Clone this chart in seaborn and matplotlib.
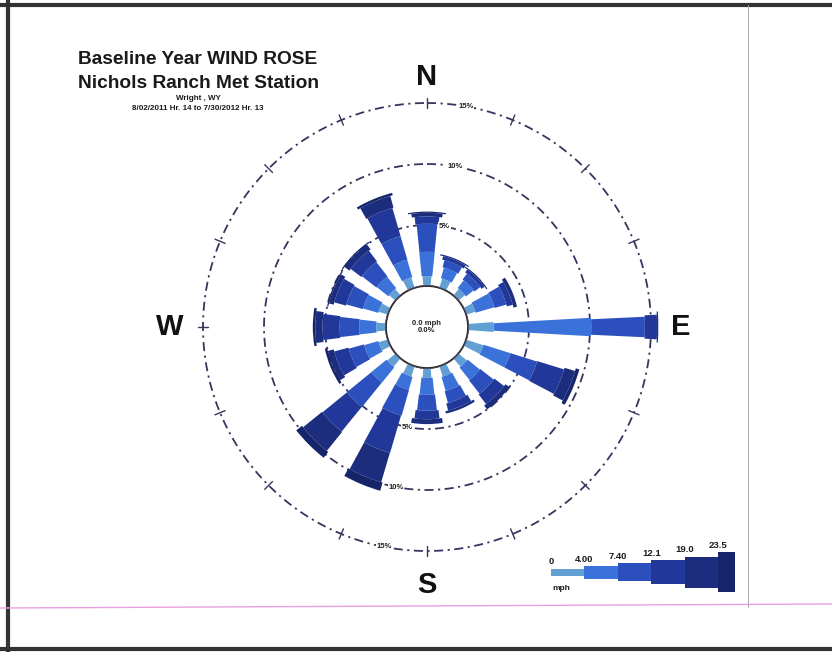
import numpy as np
import matplotlib
matplotlib.use('Agg')
import matplotlib.pyplot as plt
import seaborn as sns
from matplotlib.lines import Line2D

# 风向 (16 directions, clockwise from N)
directions = ['N', 'NNE', 'NE', 'ENE', 'E', 'ESE', 'SE', 'SSE',
              'S', 'SSW', 'SW', 'WSW', 'W', 'WNW', 'NW', 'NNW']

# frequency (%) per wind speed class
spd_0_4 = [0.8, 0.8, 0.7, 0.8, 2.1, 1.5, 0.9, 0.9, 0.8, 0.9, 0.9, 0.8, 0.8, 0.8, 0.7, 0.9]
spd_4_7 = [2.0, 0.9, 0.8, 1.6, 8.0, 2.3, 1.3, 1.2, 1.4, 1.1, 1.6, 1.2, 1.4, 1.3, 1.2, 1.5]
spd_7_12 = [2.3, 0.6, 0.6, 1.0, 4.4, 2.3, 1.4, 1.0, 1.3, 2.2, 2.6, 1.3, 1.6, 1.4, 1.5, 2.0]
spd_12_19 = [0.6, 0.3, 0.3, 0.5, 1.0, 2.3, 1.0, 0.6, 0.7, 3.2, 2.6, 1.2, 1.4, 1.0, 1.1, 2.4]
spd_19_23 = [0.3, 0.1, 0.1, 0.3, 0.1, 0.9, 0.4, 0.2, 0.4, 2.5, 2.0, 0.5, 0.6, 0.4, 0.5, 1.0]
spd_23_up = [0.1, 0.0, 0.0, 0.0, 0.0, 0.3, 0.0, 0.0, 0.0, 0.7, 0.6, 0.2, 0.2, 0.1, 0.1, 0.2]

speed_labels = ['0', '4.00', '7.40', '12.1', '19.0', '23.5']
ring_levels = [5, 10, 15]
ring_labels = ['5%', '10%', '15%']
calm_text = '0.0 mph\n0.0%'

classes = [spd_0_4, spd_4_7, spd_7_12, spd_12_19, spd_19_23, spd_23_up]
colors = sns.color_palette(['#629fd2', '#3a72da', '#2b50bd', '#21389a', '#1b2d7c', '#16246a'])
bar_px = [8, 13, 18, 24, 31, 38]   # bar width in pixels for each speed class

sns.set_theme(style='white')
plt.rcParams['font.family'] = ['Liberation Sans', 'DejaVu Sans']

fig = plt.figure(figsize=(8.32, 6.52), dpi=100)
fig.patch.set_facecolor('white')

# polar axes centred at (427, 327) px
px_per_pct = 12.2
calm_r = 41 / px_per_pct
rmax = 16
R_px = px_per_pct * (rmax + calm_r)
W, H = 832, 652
cx, cy = 427, 327
ax = fig.add_axes([(cx - R_px) / W, 1 - (cy + R_px) / H, 2 * R_px / W, 2 * R_px / H],
                  projection='polar')
ax.set_theta_zero_location('N')
ax.set_theta_direction(-1)
ax.set_ylim(0, rmax)
ax.set_rorigin(-calm_r)
ax.grid(False)
ax.set_xticks([])
ax.set_yticks([])
ax.spines['polar'].set_visible(False)
ax.patch.set_alpha(0)

theta = np.deg2rad(np.arange(len(directions)) * 360 / len(directions))

# stacked bars
bottom = np.zeros(len(directions))
for vals, col, wpx in zip(classes, colors, bar_px):
    vals = np.array(vals)
    mid = bottom + vals / 2 + calm_r
    widths = (wpx / px_per_pct) / mid
    mask = vals > 0
    ax.bar(theta[mask], vals[mask], width=widths[mask], bottom=bottom[mask],
           color=col, edgecolor='none', zorder=3)
    bottom = bottom + vals

# rings
full = np.linspace(0, 2 * np.pi, 400)
ring_col = '#35355f'
for lv in ring_levels:
    ax.plot(full, np.full_like(full, lv), color=ring_col, lw=1.3,
            linestyle=(0, (5, 2.5, 1.2, 2.5)), zorder=2)
ax.plot(full, np.zeros_like(full), color='#4a3d4a', lw=1.3, zorder=4)

# ticks on outer ring
for t in theta:
    ax.plot([t, t], [ring_levels[-1] - 0.45, ring_levels[-1] + 0.45], color=ring_col, lw=1.0)

# ring labels
for lv, lab in zip(ring_levels, ring_labels):
    for ang in (10, 191):
        ax.text(np.deg2rad(ang), lv, lab, fontsize=5.5, fontweight='bold',
                ha='center', va='center', color='#222222', zorder=5,
                bbox=dict(facecolor='white', edgecolor='none', pad=0.5))

ax.text(0, -calm_r, calm_text, fontsize=5.5, fontweight='bold', ha='center',
        va='center', linespacing=1.0, color='#222222')

# compass letters
for ang, lab, rr in zip([0, 90, 180, 270], ['N', 'E', 'S', 'W'], [17.1, 17.4, 17.8, 17.7]):
    ax.text(np.deg2rad(ang), rr, lab, fontsize=21, fontweight='bold',
            ha='center', va='center', color='#111111', clip_on=False)

# title block
fig.text(198 / W, 1 - 60 / H, 'Baseline Year WIND ROSE', fontsize=13.8, fontweight='bold',
         ha='center', va='center', color='#1a1a1a')
fig.text(198 / W, 1 - 84 / H, 'Nichols Ranch Met Station', fontsize=13.8, fontweight='bold',
         ha='center', va='center', color='#1a1a1a')
fig.text(198 / W, 1 - 99 / H, 'Wright , WY', fontsize=5.8, fontweight='bold',
         ha='center', va='center', color='#1a1a1a')
fig.text(198 / W, 1 - 109 / H, '8/02/2011 Hr. 14 to 7/30/2012 Hr. 13', fontsize=5.8,
         fontweight='bold', ha='center', va='center', color='#1a1a1a')

# speed legend
lax = fig.add_axes([551 / W, 1 - 595 / H, 184 / W, 46 / H])
seg_w = [1, 1, 1, 1, 1, 0.5]
seg_x = np.concatenate([[0], np.cumsum(seg_w)[:-1]])
seg_h = [7, 13, 18, 24, 31, 40]
lax.bar(seg_x, seg_h, width=seg_w, bottom=-np.array(seg_h) / 2, align='edge',
        color=colors, edgecolor='none')
lax.set_xlim(0, 5.5)
lax.set_ylim(-23, 23)
lax.axis('off')
for x, h, lab in zip(seg_x, seg_h, speed_labels):
    lax.text(x, h / 2 + 2, lab, fontsize=6.8, fontweight='bold', ha='center', va='bottom',
             color='#1a1a1a', clip_on=False)
lax.text(0.05, -16, 'mph', fontsize=6, fontweight='bold', ha='left', va='center',
         color='#1a1a1a')

# page frame
fig.add_artist(Line2D([8 / W, 8 / W], [0, 1], color='#333333', lw=3))
fig.add_artist(Line2D([0, 1], [1 - 5 / H, 1 - 5 / H], color='#333333', lw=3))
fig.add_artist(Line2D([0, 1], [1 - 649 / H, 1 - 649 / H], color='#333333', lw=3))
fig.add_artist(Line2D([748 / W, 748 / W], [1 - 607 / H, 1 - 5 / H], color='#aaaaaa', lw=0.7))
fig.add_artist(Line2D([0, 1], [1 - 608 / H, 1 - 604 / H], color='#e8a0e0', lw=1))

plt.savefig('out.png', dpi=100)
